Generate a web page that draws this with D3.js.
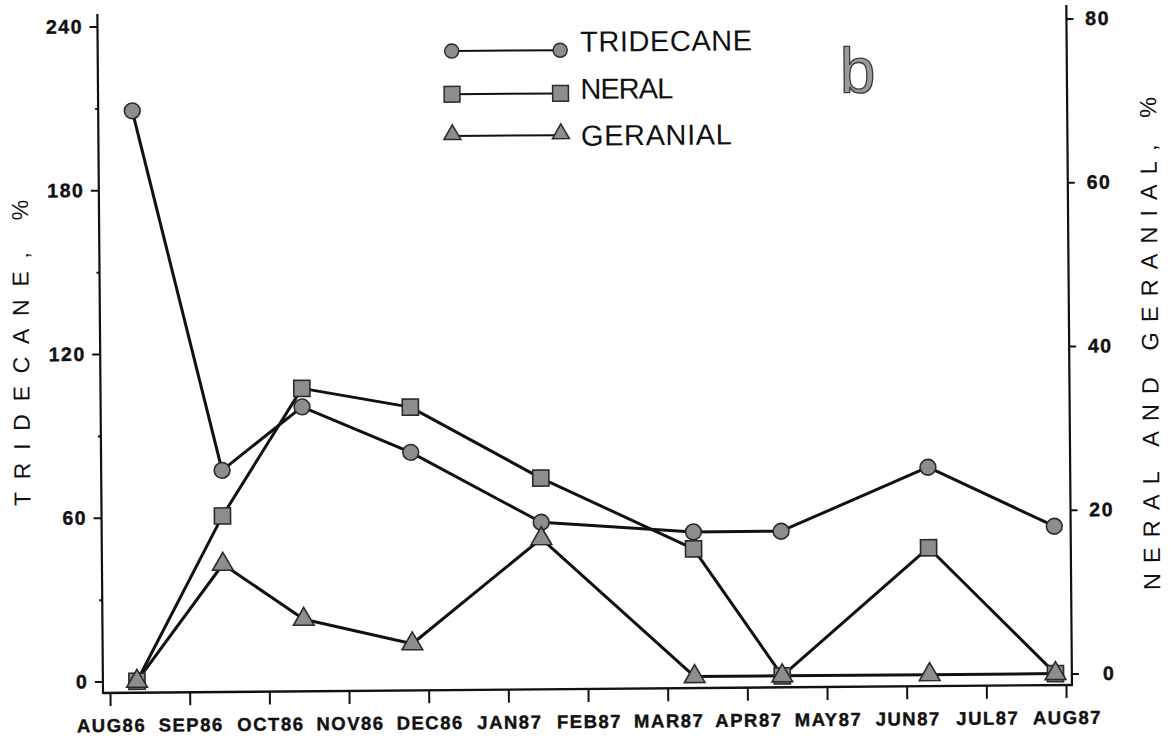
<!DOCTYPE html>
<html>
<head>
<meta charset="utf-8">
<script src="https://cdn.jsdelivr.net/npm/d3@7"></script>
<style>
  html, body { margin: 0; padding: 0; background: #ffffff; }
  svg { display: block; }
</style>
</head>
<body>
<script>
// ---------------- data ----------------
const monthLabels = ["AUG86","SEP86","OCT86","NOV86","DEC86","JAN87","FEB87","MAR87","APR87","MAY87","JUN87","JUL87","AUG87"];
const sampleMonth = [0.34, 1.43, 2.44, 3.80, 5.43, 7.34, 8.44, 10.29, 11.87];
const tridecane   = [209, 77, 100, 83, 57, 53, 53, 76, 54];
const neral       = [0, 20.1, 35.6, 33.2, 24.4, 15.6, 0, 15.5, 0];
const geranial    = [0, 14.2, 7.4, 4.3, 17, 0, 0, 0, 0];
const leftTicks   = [0, 60, 120, 180, 240];
const leftMinor   = [30, 90, 150, 210];
const rightTicks  = [0, 20, 40, 60, 80];
const seriesNames = ["TRIDECANE", "NERAL", "GERANIAL"];
const leftTitle   = "TRIDECANE,  %";
const rightTitle  = "NERAL AND GERANIAL,  %";
const panelLabel  = "b";

// ---------------- layout ----------------
const W = 1169, H = 742;
const svg = d3.select("body").append("svg").attr("width", W).attr("height", H);
// the scanned figure is slightly tilted counter-clockwise
const g = svg.append("g").attr("transform", "translate(103,693) rotate(-0.476)");

const x  = d3.scaleLinear().domain([0, 12]).range([7, 963]);
const yL = d3.scaleLinear().domain([0, 240]).range([-11.5, -666.5]);
const yR = d3.scaleLinear().domain([0, 80]).range([-11.5, -666.5]);

const INK = "#111";
const FILL = "#8d8d8d";
const MSTROKE = "#2a2a2a";
const tickFont = "'Liberation Sans', Arial, sans-serif";

// axis frame
g.append("line").attr("x1", 0).attr("y1", 0).attr("x2", 970).attr("y2", 0)
  .attr("stroke", INK).attr("stroke-width", 2.4);
g.append("line").attr("x1", 0).attr("y1", 1).attr("x2", 0).attr("y2", -679)
  .attr("stroke", INK).attr("stroke-width", 2.2);
g.append("line").attr("x1", 969).attr("y1", 1).attr("x2", 969).attr("y2", -680)
  .attr("stroke", INK).attr("stroke-width", 2.2);

function styleAxis(sel) {
  sel.select(".domain").remove();
  sel.selectAll(".tick line").attr("stroke", INK).attr("stroke-width", 2);
  sel.selectAll(".tick text")
    .attr("fill", INK)
    .attr("stroke", INK).attr("stroke-width", 0.4)
    .style("font-family", tickFont)
    .style("font-weight", "bold")
    .style("letter-spacing", "1.5px");
}

// bottom axis
const xAxis = g.append("g")
  .call(d3.axisBottom(x).tickValues(d3.range(monthLabels.length))
    .tickFormat(i => monthLabels[i]).tickSize(13).tickSizeOuter(0));
styleAxis(xAxis);
xAxis.selectAll(".tick text").attr("y", 39).attr("dy", 0).attr("dx", 0.75)
  .style("font-size", "18.5px");

// left axis
const lAxis = g.append("g")
  .call(d3.axisLeft(yL).tickValues(leftTicks).tickSize(8).tickPadding(8).tickSizeOuter(0));
styleAxis(lAxis);
lAxis.selectAll(".tick text").style("font-size", "19.5px").attr("dx", 1.5);
const lMinor = g.append("g")
  .call(d3.axisLeft(yL).tickValues(leftMinor).tickSize(3).tickFormat("").tickSizeOuter(0));
styleAxis(lMinor);

// right axis
const rAxis = g.append("g").attr("transform", "translate(969,0)")
  .call(d3.axisRight(yR).tickValues(rightTicks).tickSize(7).tickSizeOuter(0));
styleAxis(rAxis);
rAxis.selectAll(".tick text").attr("x", 43.5).attr("text-anchor", "end")
  .style("font-size", "19.5px");

// axis titles
const titleFont = "'Liberation Sans', Arial, sans-serif";
g.append("text")
  .attr("transform", "translate(-71,-187.7) rotate(-90)")
  .attr("textLength", 306).attr("lengthAdjust", "spacing")
  .style("font-family", titleFont).style("font-size", "23px")
  .attr("fill", INK).text(leftTitle);
g.append("text")
  .attr("transform", "translate(1058,-94.3) rotate(-90)")
  .attr("textLength", 493).attr("lengthAdjust", "spacing")
  .style("font-family", titleFont).style("font-size", "23.5px")
  .attr("fill", INK).text(rightTitle);

// series
const series = [
  { name: seriesNames[0], values: tridecane, scale: yL, symbol: d3.symbolCircle,   size: 195, lsize: 155 },
  { name: seriesNames[1], values: neral,     scale: yR, symbol: d3.symbolSquare,   size: 260, lsize: 250 },
  { name: seriesNames[2], values: geranial,  scale: yR, symbol: d3.symbolTriangle, size: 185, lsize: 125 }
];

const lineGen = s => d3.line()
  .x((d, i) => x(sampleMonth[i]))
  .y(d => s.scale(d));

series.forEach(s => {
  g.append("path").datum(s.values)
    .attr("d", lineGen(s))
    .attr("fill", "none").attr("stroke", INK)
    .attr("stroke-width", 3).attr("stroke-linejoin", "round");
});
series.forEach(s => {
  g.append("g").selectAll("path").data(s.values).join("path")
    .attr("transform", (d, i) => `translate(${x(sampleMonth[i])},${s.scale(d)})`)
    .attr("d", d3.symbol().type(s.symbol).size(s.size)())
    .attr("fill", FILL).attr("stroke", MSTROKE).attr("stroke-width", 1.6);
});

// legend
const legRowV  = [-639, -595.8, -554];
const legTextV = [-637.3, -590, -543.3];
const legTextL = [172, 92.7, 151];
const legU0 = 354, legU1 = 462.5, legTextU = 482.5;
const leg = g.append("g");
series.forEach((s, k) => {
  leg.append("line").attr("x1", legU0).attr("x2", legU1)
    .attr("y1", legRowV[k]).attr("y2", legRowV[k])
    .attr("stroke", INK).attr("stroke-width", 2);
  [legU0, legU1].forEach(u => {
    leg.append("path")
      .attr("transform", `translate(${u},${legRowV[k] - (k === 2 ? 1.5 : 0)})`)
      .attr("d", d3.symbol().type(s.symbol).size(s.lsize)())
      .attr("fill", FILL).attr("stroke", MSTROKE).attr("stroke-width", 1.5);
  });
  leg.append("text")
    .attr("x", legTextU).attr("y", legTextV[k])
    .attr("textLength", legTextL[k]).attr("lengthAdjust", "spacing")
    .style("font-family", "'Liberation Sans Narrow', 'Liberation Sans', Arial, sans-serif")
    .style("font-size", "29px")
    .attr("fill", INK).text(s.name);
});

// panel label
g.append("text")
  .attr("x", 742).attr("y", -594)
  .style("font-family", "'Liberation Sans', Arial, sans-serif")
  .style("font-size", "64px")
  .attr("fill", "#9a9a9a").attr("stroke", "#3a3a3a").attr("stroke-width", 1.3)
  .text(panelLabel);
</script>
</body>
</html>
